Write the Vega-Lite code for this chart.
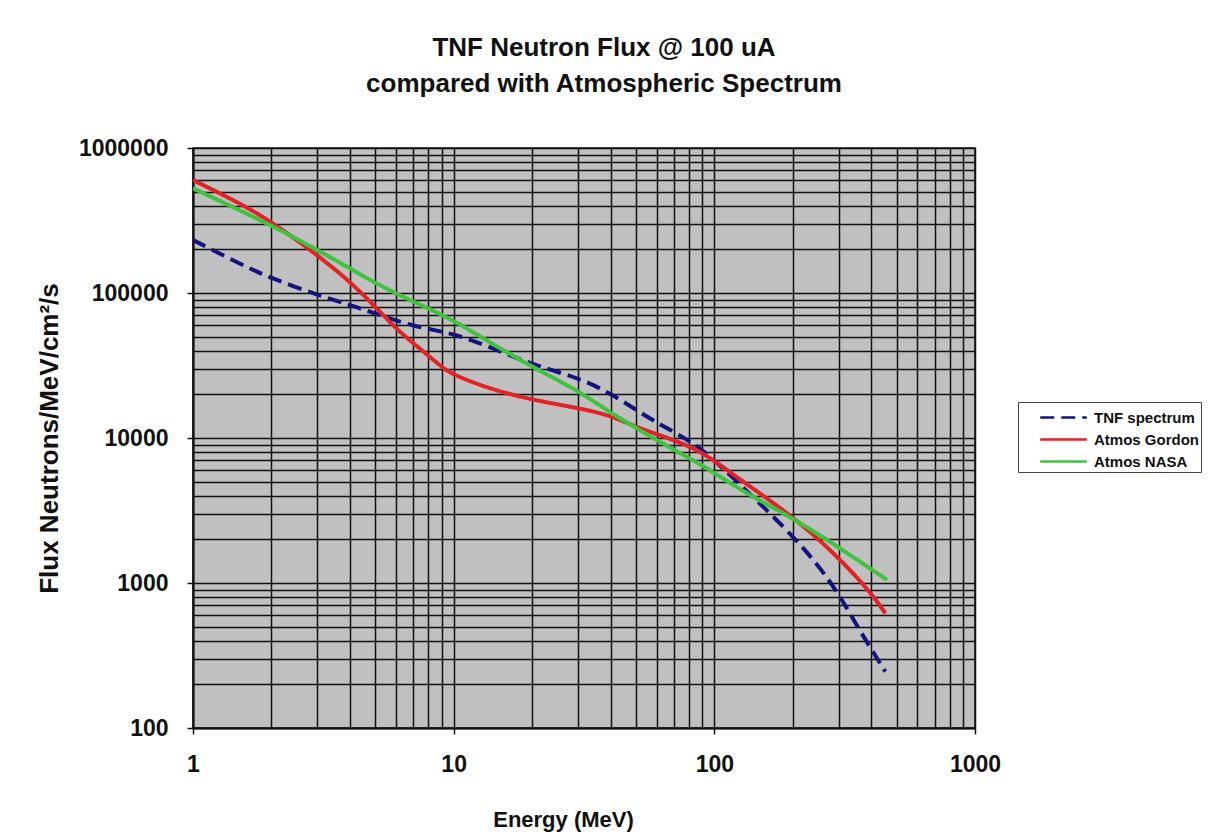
{
  "$schema": "https://vega.github.io/schema/vega-lite/v6.json",
  "autosize": {"type": "none"},
  "padding": {"left": 193, "top": 148, "right": 244, "bottom": 104},
  "width": 782,
  "height": 580,
  "background": "white",
  "title": {
    "text": ["TNF Neutron Flux @ 100 uA", "compared with Atmospheric Spectrum"],
    "font": "Liberation Sans",
    "fontSize": 26,
    "fontWeight": "bold",
    "color": "#111",
    "lineHeight": 36,
    "dx": 20,
    "offset": 40
  },
  "data": {
    "values": [
      {"series": "TNF spectrum", "E": 1, "F": 232000},
      {"series": "TNF spectrum", "E": 1.5, "F": 160000},
      {"series": "TNF spectrum", "E": 2, "F": 126000},
      {"series": "TNF spectrum", "E": 3, "F": 97000},
      {"series": "TNF spectrum", "E": 4, "F": 82600},
      {"series": "TNF spectrum", "E": 5, "F": 72400},
      {"series": "TNF spectrum", "E": 7, "F": 58600},
      {"series": "TNF spectrum", "E": 10, "F": 52800},
      {"series": "TNF spectrum", "E": 14, "F": 42000},
      {"series": "TNF spectrum", "E": 20, "F": 32000},
      {"series": "TNF spectrum", "E": 30.7, "F": 25800},
      {"series": "TNF spectrum", "E": 41, "F": 19800},
      {"series": "TNF spectrum", "E": 55, "F": 14000},
      {"series": "TNF spectrum", "E": 70, "F": 11000},
      {"series": "TNF spectrum", "E": 81, "F": 9420},
      {"series": "TNF spectrum", "E": 94, "F": 7830},
      {"series": "TNF spectrum", "E": 126, "F": 4740},
      {"series": "TNF spectrum", "E": 159, "F": 3180},
      {"series": "TNF spectrum", "E": 201, "F": 2080},
      {"series": "TNF spectrum", "E": 241, "F": 1440},
      {"series": "TNF spectrum", "E": 294, "F": 895},
      {"series": "TNF spectrum", "E": 354, "F": 500},
      {"series": "TNF spectrum", "E": 400, "F": 350},
      {"series": "TNF spectrum", "E": 453, "F": 245},
      {"series": "Atmos Gordon", "E": 1, "F": 601000},
      {"series": "Atmos Gordon", "E": 1.5, "F": 420000},
      {"series": "Atmos Gordon", "E": 2, "F": 310000},
      {"series": "Atmos Gordon", "E": 3, "F": 183000},
      {"series": "Atmos Gordon", "E": 4, "F": 120000},
      {"series": "Atmos Gordon", "E": 5, "F": 80500},
      {"series": "Atmos Gordon", "E": 6, "F": 57000},
      {"series": "Atmos Gordon", "E": 7, "F": 45000},
      {"series": "Atmos Gordon", "E": 9, "F": 31000},
      {"series": "Atmos Gordon", "E": 9.7, "F": 27900},
      {"series": "Atmos Gordon", "E": 13.4, "F": 22100},
      {"series": "Atmos Gordon", "E": 20, "F": 18300},
      {"series": "Atmos Gordon", "E": 30.7, "F": 16000},
      {"series": "Atmos Gordon", "E": 40, "F": 14300},
      {"series": "Atmos Gordon", "E": 50, "F": 11900},
      {"series": "Atmos Gordon", "E": 70, "F": 9680},
      {"series": "Atmos Gordon", "E": 90, "F": 8050},
      {"series": "Atmos Gordon", "E": 126, "F": 5130},
      {"series": "Atmos Gordon", "E": 201, "F": 2870},
      {"series": "Atmos Gordon", "E": 298, "F": 1520},
      {"series": "Atmos Gordon", "E": 401, "F": 849},
      {"series": "Atmos Gordon", "E": 453, "F": 617},
      {"series": "Atmos NASA", "E": 1, "F": 527000},
      {"series": "Atmos NASA", "E": 2, "F": 294000},
      {"series": "Atmos NASA", "E": 3, "F": 198000},
      {"series": "Atmos NASA", "E": 4, "F": 148000},
      {"series": "Atmos NASA", "E": 5, "F": 117000},
      {"series": "Atmos NASA", "E": 7, "F": 87000},
      {"series": "Atmos NASA", "E": 9.7, "F": 67000},
      {"series": "Atmos NASA", "E": 13.8, "F": 45500},
      {"series": "Atmos NASA", "E": 20, "F": 30900},
      {"series": "Atmos NASA", "E": 30.7, "F": 20800},
      {"series": "Atmos NASA", "E": 40, "F": 14800},
      {"series": "Atmos NASA", "E": 70, "F": 8260},
      {"series": "Atmos NASA", "E": 90, "F": 6510},
      {"series": "Atmos NASA", "E": 126, "F": 4370},
      {"series": "Atmos NASA", "E": 201, "F": 2790},
      {"series": "Atmos NASA", "E": 298, "F": 1780},
      {"series": "Atmos NASA", "E": 460, "F": 1050}
    ]
  },
  "mark": {"type": "line", "interpolate": "basis", "strokeWidth": 4, "clip": true},
  "encoding": {
    "x": {
      "field": "E",
      "type": "quantitative",
      "scale": {"type": "log", "domain": [1, 1000], "nice": false},
      "axis": {
        "title": "Energy (MeV)",
        "titleX": 370,
        "titleY": 98,
        "titleAlign": "center",
        "titleBaseline": "alphabetic",
        "titleFontSize": 22,
        "values": [1,2,3,4,5,6,7,8,9,10,20,30,40,50,60,70,80,90,100,200,300,400,500,600,700,800,900,1000],
        "format": "d",
        "labelExpr": "abs(log(datum.value)/LN10 - round(log(datum.value)/LN10)) < 0.000001 ? datum.label : ''",
        "tickOpacity": {"condition": {"test": "abs(log(datum.value)/LN10 - round(log(datum.value)/LN10)) < 0.000001", "value": 1}, "value": 0}
      }
    },
    "y": {
      "field": "F",
      "type": "quantitative",
      "scale": {"type": "log", "domain": [100, 1000000], "nice": false},
      "axis": {
        "title": "Flux  Neutrons/MeV/cm²/s",
        "titleX": -136,
        "titleY": 290,
        "titleAngle": 270,
        "titleAlign": "center",
        "titleBaseline": "alphabetic",
        "titleFontSize": 26,
        "values": [100,200,300,400,500,600,700,800,900,1000,2000,3000,4000,5000,6000,7000,8000,9000,10000,20000,30000,40000,50000,60000,70000,80000,90000,100000,200000,300000,400000,500000,600000,700000,800000,900000,1000000],
        "format": "d",
        "labelExpr": "abs(log(datum.value)/LN10 - round(log(datum.value)/LN10)) < 0.000001 ? datum.label : ''",
        "tickOpacity": {"condition": {"test": "abs(log(datum.value)/LN10 - round(log(datum.value)/LN10)) < 0.000001", "value": 1}, "value": 0}
      }
    },
    "color": {
      "field": "series",
      "type": "nominal",
      "scale": {"domain": ["TNF spectrum", "Atmos Gordon", "Atmos NASA"], "range": ["#14147e", "#e32226", "#3fc23f"]},
      "legend": {"title": null}
    },
    "strokeDash": {
      "field": "series",
      "type": "nominal",
      "scale": {"domain": ["TNF spectrum", "Atmos Gordon", "Atmos NASA"], "range": [[14, 7], [1, 0], [1, 0]]},
      "legend": {"title": null}
    }
  },
  "config": {
    "font": "Liberation Sans",
    "view": {"fill": "#c0c0c0", "stroke": "#111", "strokeWidth": 1.5},
    "axis": {
      "labelFont": "Liberation Sans",
      "labelFontSize": 23,
      "labelFontWeight": "bold",
      "labelColor": "#111",
      "labelPadding": 19,
      "labelOverlap": false,
      "labelFlush": false,
      "titleFont": "Liberation Sans",
      "titleFontWeight": "bold",
      "titleColor": "#111",
      "grid": true,
      "gridColor": "#111",
      "gridWidth": 1.5,
      "gridOpacity": 1,
      "domainColor": "#111",
      "domainWidth": 2,
      "tickColor": "#111",
      "tickSize": 6,
      "tickWidth": 1.5
    },
    "legend": {
      "orient": "none",
      "legendX": 825,
      "legendY": 254,
      "strokeColor": "#444",
      "fillColor": "white",
      "padding": 2,
      "labelFont": "Liberation Sans",
      "labelFontSize": 15,
      "labelFontWeight": "bold",
      "labelColor": "#111",
      "labelOffset": 17,
      "symbolOffset": 30,
      "symbolType": "M-1.9,0H1.9",
      "symbolSize": 600,
      "symbolStrokeWidth": 2.5,
      "rowPadding": 0
    }
  }
}
